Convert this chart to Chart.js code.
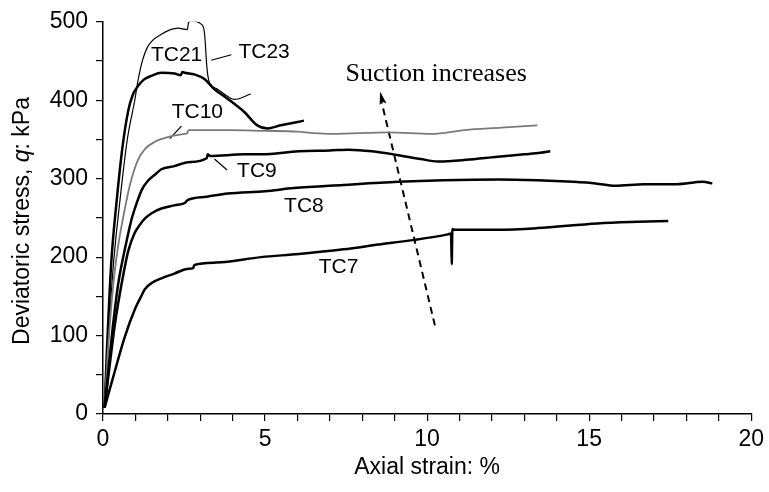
<!DOCTYPE html>
<html><head><meta charset="utf-8">
<script src="https://cdn.jsdelivr.net/npm/chart.js@4/dist/chart.umd.min.js"></script>
<style>html,body{margin:0;padding:0;background:#fff}canvas{display:block}</style>
</head><body>
<canvas id="c" width="769" height="492"></canvas>
<script>
// ---- data (axial strain %, deviatoric stress kPa) ----
const tc7X = [0.05,0.3,0.67,1.0,1.19,1.29,1.5,1.8,2.2,2.6,2.78,2.82,3.5,4.88,6.04,7.42,8.5,9.62,10.64,10.74,10.76,10.78,10.85,11.05,12.18,13.4,15.25,16.5,17.44];
const tc7Y = [8,45,98,135,151,159,167,173,179,185,186,190,193,200,204,210,216,222,229,230,191,236,235,235,235,237,243,245,246];
const tc8X = [0.05,0.2,0.37,0.57,0.78,0.98,1.15,1.29,1.5,1.8,2.2,2.52,2.62,3.2,3.84,5.0,5.89,7.42,9.1,10.5,12.2,13.4,14.5,15.2,15.8,16.7,17.7,18.5,18.8];
const tc8Y = [8,60,115,165,208,231,242,249,256,262,266,269,273,277,281,284,288,292,296,298,299,298,296,294,291,293,293,296,294];
const tc9X = [0.05,0.15,0.3,0.47,0.7,0.88,1.05,1.2,1.38,1.6,1.8,2.2,2.62,3.2,3.23,3.3,4.36,4.88,6.04,7.0,7.58,8.3,9.11,9.8,10.34,11.2,12.18,13.0,13.5,13.8];
const tc9Y = [8,50,110,166,215,248,270,286,297,305,312,316,321,326,331,329,331,331,335,336,337,335,330,325,322,324,328,331,333,335];
const tc10X = [0.05,0.15,0.32,0.47,0.62,0.83,1.08,1.3,1.6,2.0,2.52,2.6,2.64,3.84,5.0,6.0,6.5,7.07,8.8,10.13,11.16,12.3,13.4];
const tc10Y = [8,80,166,215,250,292,324,338,347,353,357,358,362,362,361,360,358,357,359,357,362,365,368];
const tc21X = [0.05,0.12,0.25,0.42,0.6,0.78,0.92,1.08,1.25,1.49,1.8,2.21,2.4,2.45,2.52,2.82,3.13,3.44,3.84,4.36,4.76,5.07,5.48,6.2];
const tc21Y = [8,80,190,271,340,387,407,418,426,431,435,434,432,436,435,433,427,414,402,385,368,364,368,374];
const tc23X = [0.05,0.15,0.3,0.52,0.75,0.98,1.08,1.2,1.39,1.8,2.31,2.6,2.64,2.72,3.03,3.13,3.21,3.28,3.5,3.84,4.05,4.56];
const tc23Y = [8,80,180,271,350,400,425,448,469,484,492,490,499,501,497,486,440,423,415,405,401,408];

// curve labels (text, strain, stress) and leader lines
const labelNames = ['TC21','TC23','TC10','TC9','TC8','TC7'];
const labelX = [2.27,4.97,2.91,4.75,6.2,7.27];
const labelY = [457,461,385,310,265,187];
const leader23X = [3.34,3.96], leader23Y = [451,458];
const leader10X = [2.06,2.42], leader10Y = [351,367];
const leader9X = [3.44,3.83], leader9Y = [325,311];
// "Suction increases" arrow (tail -> head) and note
const arrowX = [10.24,8.6], arrowY = [113,397];
const arrowTip = [8.55,411];
const noteText = 'Suction increases', noteX = 10.28, noteY = 433;

// tick settings
const xMin = 0, xMax = 20, xStep = 1, xLabelEvery = 5;
const yMin = 0, yMax = 500, yStep = 50, yLabelEvery = 100;

const pts = (xs, ys) => xs.map((x, i) => ({x, y: ys[i]}));
const SANS = "'Liberation Sans', Arial, sans-serif";

function line(label, xs, ys, color, width, dash, smooth) {
  return {label, data: pts(xs, ys), showLine: true, borderColor: color, borderWidth: width,
    pointRadius: 0, pointHoverRadius: 0, tension: smooth ? 0.4 : 0,
    cubicInterpolationMode: smooth ? 'monotone' : 'default',
    fill: false, borderDash: dash || [], borderCapStyle: 'butt', borderJoinStyle: 'round'};
}

const annotate = {
  id: 'annotate',
  afterDatasetsDraw(chart) {
    const {ctx, scales: {x, y}} = chart;
    ctx.save();
    ctx.fillStyle = '#000';
    // curve labels
    ctx.font = '21px ' + SANS;
    ctx.textAlign = 'center';
    ctx.textBaseline = 'middle';
    labelNames.forEach((t, i) => ctx.fillText(t, x.getPixelForValue(labelX[i]), y.getPixelForValue(labelY[i])));
    // note
    ctx.font = "26px 'Liberation Serif', 'Times New Roman', serif";
    ctx.fillText(noteText, x.getPixelForValue(noteX), y.getPixelForValue(noteY));
    // arrow head
    const tx = x.getPixelForValue(arrowTip[0]), ty = y.getPixelForValue(arrowTip[1]);
    const bx = x.getPixelForValue(arrowX[0]), by = y.getPixelForValue(arrowY[0]);
    let dx = tx - bx, dy = ty - by; const L = Math.hypot(dx, dy); dx /= L; dy /= L;
    const hl = 13, hw = 3.5;
    ctx.beginPath();
    ctx.moveTo(tx, ty);
    ctx.lineTo(tx - dx * hl - dy * hw, ty - dy * hl + dx * hw);
    ctx.lineTo(tx - dx * hl * 0.8, ty - dy * hl * 0.8);
    ctx.lineTo(tx - dx * hl + dy * hw, ty - dy * hl - dx * hw);
    ctx.closePath();
    ctx.fill();
    // y-axis title with italic q
    const parts = [['Deviatoric stress, ', 'normal'], ['q', 'italic'], [': kPa', 'normal']];
    ctx.translate(23, 221);
    ctx.rotate(-Math.PI / 2);
    ctx.textAlign = 'left';
    let total = 0;
    parts.forEach(p => { ctx.font = p[1] + ' 23px ' + SANS; p.push(ctx.measureText(p[0]).width); total += p[2]; });
    let cx = -total / 2;
    parts.forEach(p => { ctx.font = p[1] + ' 23px ' + SANS; ctx.fillText(p[0], cx, 0); cx += p[2]; });
    ctx.restore();
  }
};

new Chart(document.getElementById('c'), {
  type: 'scatter',
  data: {
    datasets: [
      line('TC7', tc7X, tc7Y, '#000', 2.5, null, true),
      line('TC8', tc8X, tc8Y, '#000', 2.5, null, true),
      line('TC9', tc9X, tc9Y, '#000', 2.5, null, true),
      line('TC10', tc10X, tc10Y, '#7a7a7a', 1.8, null, true),
      line('TC21', tc21X, tc21Y, '#000', 2.5, null, true),
      line('TC23', tc23X, tc23Y, '#000', 1.2, null, true),
      line('leader23', leader23X, leader23Y, '#000', 1.2),
      line('leader10', leader10X, leader10Y, '#000', 1.2),
      line('leader9', leader9X, leader9Y, '#000', 1.2),
      line('arrow', arrowX, arrowY, '#000', 2, [7, 5])
    ]
  },
  options: {
    responsive: false,
    animation: false,
    events: [],
    layout: {padding: {top: 19, right: 14, bottom: 0, left: 0}},
    plugins: {legend: {display: false}, tooltip: {enabled: false}},
    scales: {
      x: {
        type: 'linear', min: xMin, max: xMax,
        ticks: {stepSize: xStep, autoSkip: false, maxRotation: 0, padding: 5, color: '#000',
          font: {family: SANS, size: 23},
          callback: v => (v % xLabelEvery === 0 ? String(v) : '')},
        grid: {display: true, drawOnChartArea: false, drawTicks: true, tickLength: 7, color: '#000', lineWidth: 1.2},
        border: {display: true, color: '#000', width: 1.5},
        title: {display: true, text: 'Axial strain: %', color: '#000', font: {family: SANS, size: 23}, padding: {top: 0, bottom: 11}},
        afterFit: s => { s.height = 78; }
      },
      y: {
        type: 'linear', min: yMin, max: yMax,
        ticks: {stepSize: yStep, autoSkip: false, padding: 8, color: '#000',
          font: {family: SANS, size: 23},
          callback: v => (v % yLabelEvery === 0 ? String(v) : '')},
        grid: {display: true, drawOnChartArea: false, drawTicks: true, tickLength: 7, color: '#000', lineWidth: 1.2},
        border: {display: true, color: '#000', width: 1.5},
        title: {display: false},
        afterFit: s => { s.width = 103; }
      }
    }
  },
  plugins: [annotate]
});
</script>
</body></html>
